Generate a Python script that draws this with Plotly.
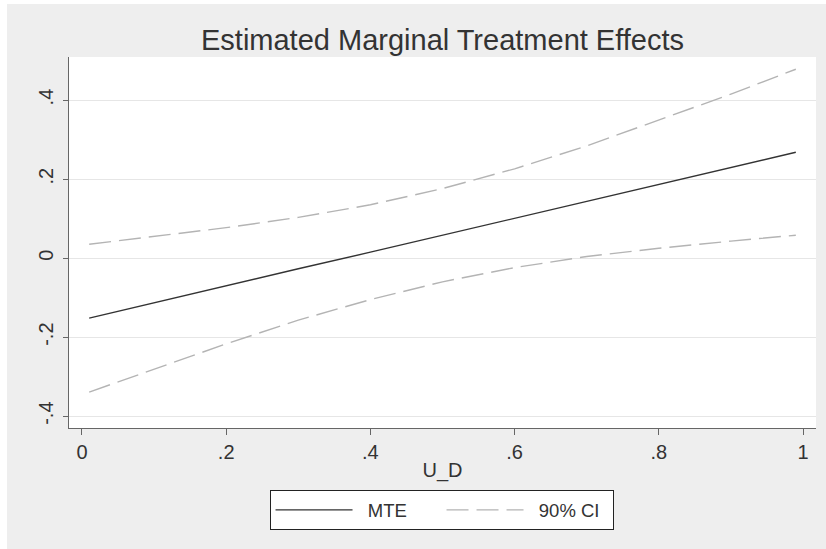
import plotly.graph_objects as go

u_d = [0.01, 0.1, 0.2, 0.3, 0.4, 0.5, 0.6, 0.7, 0.8, 0.9, 0.99]
mte = [-0.152, -0.113, -0.070, -0.027, 0.015, 0.058, 0.101, 0.144, 0.187, 0.229, 0.268]
ci_upper = [0.035, 0.055, 0.077, 0.103, 0.135, 0.176, 0.226, 0.284, 0.349, 0.415, 0.478]
ci_lower = [-0.339, -0.281, -0.217, -0.157, -0.105, -0.060, -0.024, 0.004, 0.025, 0.043, 0.058]

x_tickvals = [0, 0.2, 0.4, 0.6, 0.8, 1]
x_ticktext = ["0", ".2", ".4", ".6", ".8", "1"]
y_tickvals = [-0.4, -0.2, 0, 0.2, 0.4]
y_ticktext = ["-.4", "-.2", "0", ".2", ".4"]

FONT = "Liberation Sans, Arial, sans-serif"
CI_COLOR = "#b4b4b4"
NB = "\u00a0\u00a0"

fig = go.Figure()
fig.add_trace(go.Scatter(x=u_d, y=mte, mode="lines", name=NB + "MTE",
                         line=dict(color="#333333", width=1.4)))
fig.add_trace(go.Scatter(x=u_d, y=ci_upper, mode="lines", name=NB + "90% CI",
                         line=dict(color=CI_COLOR, width=1.4, dash="22px,8px")))
fig.add_trace(go.Scatter(x=u_d, y=ci_lower, mode="lines", name="90% CI",
                         showlegend=False,
                         line=dict(color=CI_COLOR, width=1.4, dash="22px,8px")))

fig.update_layout(
    width=826, height=549,
    margin=dict(l=69, r=10, t=57, b=121, autoexpand=False),
    paper_bgcolor="#eeeeee",
    plot_bgcolor="white",
    font=dict(family=FONT, color="#333333", size=20),
    title=dict(text="Estimated Marginal Treatment Effects", x=0.5, xref="paper",
               xanchor="center", y=1 - 40 / 549, yanchor="middle",
               font=dict(size=29, color="#333333")),
    showlegend=True,
    legend=dict(orientation="h", x=0.4987, xanchor="center", y=-0.168, yanchor="top",
                bgcolor="white", bordercolor="#222222", borderwidth=1,
                font=dict(size=18.5, color="#333333"), itemwidth=77,
                entrywidth=79, entrywidthmode="pixels"),
    xaxis=dict(range=[-0.018, 1.018], tickvals=x_tickvals, ticktext=x_ticktext,
               showgrid=False, zeroline=False, showline=True, linecolor="#666666",
               linewidth=1.2, ticks="outside", ticklen=6, tickcolor="#666666",
               tickfont=dict(size=20, color="#333333"),
               title=dict(text="U_D", font=dict(size=20, color="#333333"), standoff=0)),
    yaxis=dict(range=[-0.430, 0.509], tickvals=y_tickvals, ticktext=y_ticktext,
               showgrid=True, gridcolor="#e6e6e6", gridwidth=1.2, zeroline=False,
               showline=True, linecolor="#666666", linewidth=1.2,
               ticks="outside", ticklen=5, tickcolor="#666666", tickangle=-90,
               ticklabelstandoff=2,
               tickfont=dict(size=20, color="#333333")),
    shapes=[
        dict(type="rect", xref="paper", yref="paper", x0=-0.2, x1=(7 - 69) / 747,
             y0=-0.5, y1=1.3, fillcolor="white", line=dict(width=0), layer="below"),
        dict(type="rect", xref="paper", yref="paper", x0=-0.2, x1=1.2,
             y0=(428 - 4) / 371, y1=1.3, fillcolor="white", line=dict(width=0), layer="below"),
    ],
)

fig.write_html("out.html", config={"displayModeBar": False},
               post_script="document.body.style.margin='0';document.body.style.overflow='hidden';")
